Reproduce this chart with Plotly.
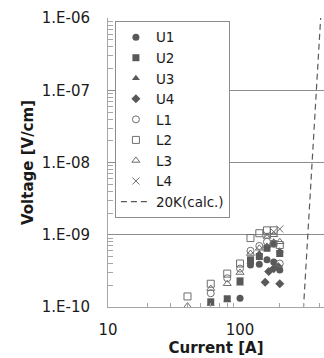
import plotly.graph_objects as go

# ---- data (currents in A, voltages in V/cm) ----
u1_current = [100, 120, 140, 160, 180, 200]
u1_voltage = [1.32e-10, 3.8e-10, 3.9e-10, 4.5e-10, 4.2e-10, 3.25e-10]

u2_current = [60, 80, 100, 120, 140, 160, 180, 200]
u2_voltage = [1.18e-10, 1.3e-10, 2.3e-10, 4.5e-10, 5.0e-10, 6.5e-10, 7.5e-10, 5.5e-10]

u3_current = [60, 80, 100, 120, 140, 160, 180, 200]
u3_voltage = [1.1e-10, 1.25e-10, 2.1e-10, 4.2e-10, 5.5e-10, 7.0e-10, 8.0e-10, 6.0e-10]

u4_current = [155, 165, 180, 195, 200]
u4_voltage = [2.2e-10, 3.1e-10, 3.4e-10, 3.6e-10, 2.1e-10]

l1_current = [60, 80, 100, 120, 140, 160, 180, 200]
l1_voltage = [1.55e-10, 2.5e-10, 3.4e-10, 6.0e-10, 7.0e-10, 8.0e-10, 7.5e-10, 4.0e-10]

l2_current = [40, 60, 80, 100, 120, 140, 160, 180, 200]
l2_voltage = [1.4e-10, 2.1e-10, 2.9e-10, 4.0e-10, 9.0e-10, 1.05e-9, 1.15e-9, 1.15e-9, 7.2e-10]

l3_current = [40, 60, 80, 100, 120, 140, 160, 180, 200]
l3_voltage = [1.03e-10, 1.8e-10, 2.1e-10, 3.0e-10, 5.5e-10, 6.5e-10, 9.5e-10, 1.0e-9, 8.0e-10]

l4_current = [160, 180, 200]
l4_voltage = [1.0e-9, 1.1e-9, 1.2e-9]

calc_current = [281, 303, 327, 353, 381, 408, 437]
calc_voltage = [1e-11, 1e-10, 1e-9, 1e-8, 1e-7, 1e-6, 1e-5]

ytick_vals = [1e-10, 1e-9, 1e-8, 1e-7, 1e-6]
ytick_text = ["1.E-10", "1.E-09", "1.E-08", "1.E-07", "1.E-06"]
xtick_vals = [10, 100]
xtick_text = ["10", "100"]

FILL = "#595959"
OPEN = "#6e6e6e"
FONT = "DejaVu Sans"

fig = go.Figure()

def add(name, x, y, symbol, filled=True, size=7):
    if filled:
        marker = dict(symbol=symbol, size=size, color=FILL, line=dict(width=0))
    else:
        marker = dict(symbol=symbol, size=size, color=OPEN, line=dict(width=1, color=OPEN))
    fig.add_trace(go.Scatter(x=x, y=y, mode="markers", name=name, marker=marker, cliponaxis=True))

add("U1", u1_current, u1_voltage, "circle")
add("U2", u2_current, u2_voltage, "square")
add("U3", u3_current, u3_voltage, "triangle-up")
add("U4", u4_current, u4_voltage, "diamond", size=7)
add("L1", l1_current, l1_voltage, "circle-open", filled=False)
add("L2", l2_current, l2_voltage, "square-open", filled=False)
add("L3", l3_current, l3_voltage, "triangle-up-open", filled=False)
add("L4", l4_current, l4_voltage, "x-thin-open", filled=False)

fig.add_trace(go.Scatter(x=calc_current, y=calc_voltage, mode="lines", name="20K(calc.)",
                         line=dict(color=FILL, width=1.2, dash="6px,4px")))

minor_y = [m * 10 ** e for e in range(-10, -6) for m in range(2, 10)]
minor_x = [m * 10 ** e for e in range(1, 3) for m in range(2, 10)]

fig.update_layout(
    width=324, height=358,
    margin=dict(l=108, r=0, t=18, b=51),
    paper_bgcolor="white", plot_bgcolor="white",
    font=dict(family=FONT, size=15, color="#1a1a1a"),
    showlegend=True,
    legend=dict(x=0.032, y=0.99, xanchor="left", yanchor="top",
                bgcolor="white", bordercolor="#8c8c8c", borderwidth=1,
                font=dict(family=FONT, size=13.5, color="#1a1a1a"),
                itemwidth=30, tracegroupgap=0),
    xaxis=dict(type="log", range=[1, 2.636],
               tickmode="array", tickvals=xtick_vals, ticktext=xtick_text,
               showgrid=False, zeroline=False,
               showline=True, linecolor="#a6a6a6", linewidth=1,
               ticks="", ticklabelstandoff=9,
               minor=dict(tickmode="array", tickvals=minor_x, ticks="inside",
                          ticklen=4, tickcolor="#a6a6a6", showgrid=False),
               title=dict(text="<b>Current [A]</b>", font=dict(size=15, family=FONT), standoff=4)),
    yaxis=dict(type="log", range=[-10, -6],
               tickmode="array", tickvals=ytick_vals, ticktext=ytick_text,
               showgrid=True, gridcolor="#8c8c8c", gridwidth=1, zeroline=False,
               showline=True, linecolor="#a6a6a6", linewidth=1,
               ticks="", ticklabelstandoff=14,
               minor=dict(tickmode="array", tickvals=minor_y, ticks="inside",
                          ticklen=5, tickcolor="#a6a6a6", showgrid=False),
               title=dict(text="<b>Voltage [V/cm]</b>", font=dict(size=15, family=FONT), standoff=4)),
)

fig.write_html("out.html")
